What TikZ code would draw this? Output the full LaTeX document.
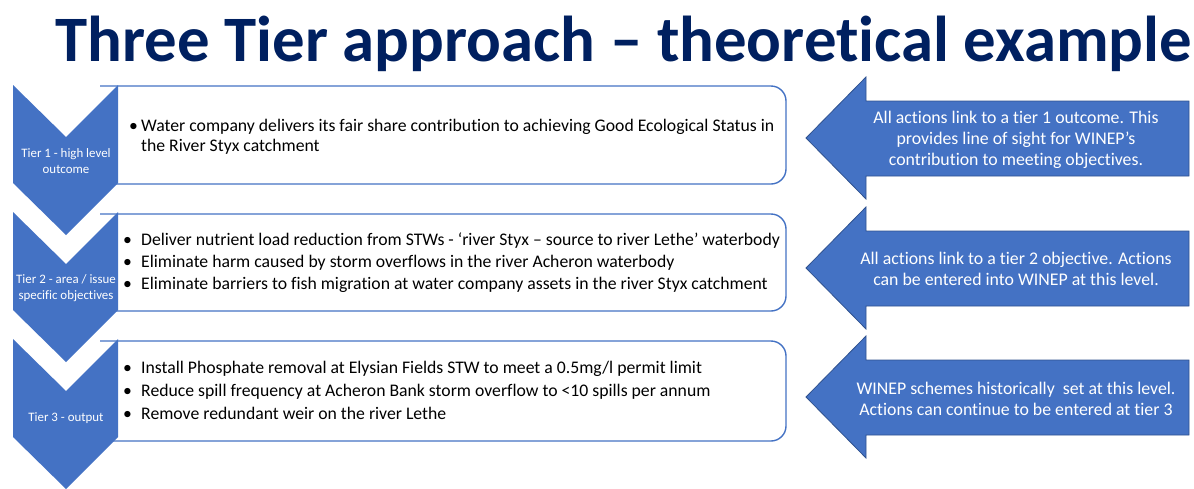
\documentclass[tikz,border=0pt]{standalone}
\usepackage{fontspec}
\setmainfont{Carlito}[Ligatures={NoCommon}]
\definecolor{tierblue}{HTML}{4472C4}
\definecolor{tieredge}{HTML}{2F528F}
\definecolor{titlenavy}{HTML}{002060}
% bullet set in a box of given width, so the item text starts at a fixed column
\newcommand{\tierbullet}[1]{\makebox[#1][l]{\textbullet}}
\begin{document}
\begin{tikzpicture}[x=1pt,y=-1pt,
  chevron/.style={fill=tierblue},
  itembox/.style={draw=tierblue, line width=1.4pt, fill=white, rounded corners=15pt},
  notearrow/.style={fill=tierblue, draw=tieredge, line width=0.8pt, line join=miter},
  tierlabel/.style={text=white, font=\fontsize{12.9}{16}\selectfont, align=center, inner sep=0pt},
  notetext/.style={text=white, font=\fontsize{17.8}{21}\selectfont, align=center, inner sep=0pt},
  itemline/.style={anchor=base west, font=\fontsize{17.7}{20}\selectfont, inner sep=0pt},
  headline/.style={text=titlenavy, font=\fontsize{64.8}{72}\selectfont\bfseries, inner sep=0pt}]

\useasboundingbox (0,0) rectangle (1194,488);

% title
\node[headline, anchor=base] (title) at (624,61) {Three Tier approach -- theoretical example};

% text boxes, rounded on the right, their left ends hidden behind the chevrons
\foreach \t/\h in {86/98, 214/97, 341/100} {
  \draw[itembox] (100,\t) -- (786,\t) -- (786,{\t+\h}) -- (100,{\t+\h});
}

% chevrons
\foreach \t in {85,212,339} {
  \fill[chevron] (13,\t) -- (66,{\t+52}) -- (118,\t) -- (118,{\t+98})
    -- (66,{\t+150}) -- (13,{\t+98}) -- cycle;
}
\node[tierlabel] (tier1) at (66,161) {Tier 1 - high level\\outcome};
\node[tierlabel] (tier2) at (66,288) {Tier 2 - area / issue\\specific objectives};
\node[tierlabel] (tier3) at (66,418) {Tier 3 - output};

% tier 1 items
\node[itemline] (i1a) at (129,131) {\tierbullet{12pt}Water company delivers its fair share contribution to achieving Good Ecological Status in};
\node[itemline] (i1b) at (141,151) {the River Styx catchment};

% tier 2 items
\node[itemline] (i2a) at (123,245) {\tierbullet{18pt}Deliver nutrient load reduction from STWs - ‘river Styx – source to river Lethe’ waterbody};
\node[itemline] (i2b) at (123,267) {\tierbullet{18pt}Eliminate harm caused by storm overflows in the river Acheron waterbody};
\node[itemline] (i2c) at (123,289) {\tierbullet{18pt}Eliminate barriers to fish migration at water company assets in the river Styx catchment};

% tier 3 items
\node[itemline] (i3a) at (123,373) {\tierbullet{18pt}Install Phosphate removal at Elysian Fields STW to meet a 0.5mg/l permit limit};
\node[itemline] (i3b) at (123,396) {\tierbullet{18pt}Reduce spill frequency at Acheron Bank storm overflow to <10 spills per annum};
\node[itemline] (i3c) at (123,419) {\tierbullet{18pt}Remove redundant weir on the river Lethe};

% left-pointing block arrows with notes
\foreach \c in {138,268,397} {
  \draw[notearrow] (806,\c) -- (866,{\c-61}) -- (866,{\c-37}) -- (1189,{\c-37})
    -- (1189,{\c+38}) -- (866,{\c+38}) -- (866,{\c+61}) -- cycle;
}
\node[notetext] (note1) at (1016,140) {All actions link to a tier 1 outcome. This\\provides line of sight for WINEP’s\\contribution to meeting objectives.};
\node[notetext] (note2) at (1016,269) {All actions link to a tier 2 objective. Actions\\can be entered into WINEP at this level.};
\node[notetext] (note3) at (1016,399) {WINEP schemes historically~ set at this level.\\Actions can continue to be entered at tier 3};

\end{tikzpicture}
\end{document}
